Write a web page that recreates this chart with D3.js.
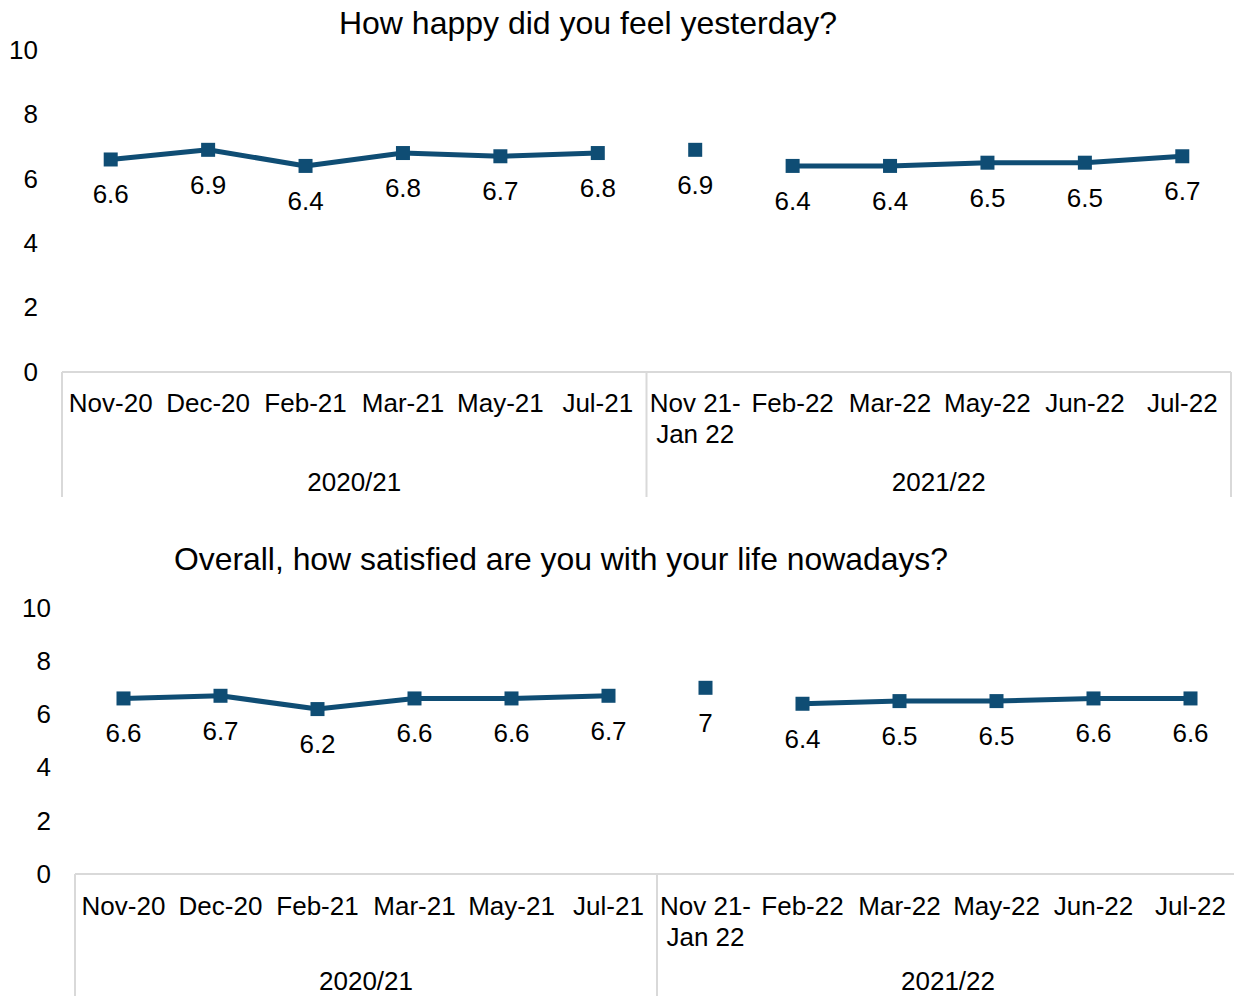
<!DOCTYPE html>
<html>
<head>
<meta charset="utf-8">
<script src="https://cdn.jsdelivr.net/npm/d3@7"></script>
<style>
  html, body { margin: 0; padding: 0; background: #fff; }
  svg { display: block; font-family: "Liberation Sans", Arial, sans-serif; }
  text { fill: #000; }
</style>
</head>
<body>
<svg id="chart" width="1234" height="996"></svg>
<script>
// ---- data ----
const categories = ["Nov-20", "Dec-20", "Feb-21", "Mar-21", "May-21", "Jul-21",
                    "Nov 21-\nJan 22", "Feb-22", "Mar-22", "May-22", "Jun-22", "Jul-22"];
const groups = ["2020/21", "2021/22"];
const groupSizes = [6, 6];
const happyValues = [6.6, 6.9, 6.4, 6.8, 6.7, 6.8, 6.9, 6.4, 6.4, 6.5, 6.5, 6.7];
const satisfiedValues = [6.6, 6.7, 6.2, 6.6, 6.6, 6.7, 7, 6.4, 6.5, 6.5, 6.6, 6.6];
// line segments (index ranges connected by a line); Nov 21-Jan 22 stands alone
const segments = [[0, 5], [7, 11]];
const yTicks = [0, 2, 4, 6, 8, 10];
const titles = ["How happy did you feel yesterday?",
                "Overall, how satisfied are you with your life nowadays?"];

const COLOR = "#0f4d74";
const GRID = "#d9d9d9";
const svg = d3.select("#chart");

function drawPanel(cfg) {
  const g = svg.append("g");
  const x = d3.scaleBand().domain(d3.range(categories.length))
    .range([cfg.left, cfg.right]).paddingInner(0).paddingOuter(0);
  const cx = i => x(i) + x.bandwidth() / 2;
  const y = d3.scaleLinear().domain([0, 10]).range([cfg.y0, cfg.y10]);

  // title
  const t = g.append("text")
    .attr("x", cfg.titleX).attr("y", cfg.titleY)
    .attr("text-anchor", "middle")
    .style("font-size", "32px")
    .text(cfg.title);
  if (cfg.titleLen) t.attr("textLength", cfg.titleLen).attr("lengthAdjust", "spacingAndGlyphs");

  // y axis labels
  const ya = d3.axisLeft(y).tickValues(yTicks).tickSize(0).tickPadding(0).tickFormat(d3.format("d"));
  const yg = g.append("g").attr("transform", `translate(${cfg.yLabelX},0)`).call(ya);
  yg.select(".domain").remove();
  yg.selectAll("text").style("font-size", "26px").attr("fill", "#000")
    .attr("font-family", "Liberation Sans, Arial, sans-serif");

  // category axis box
  g.append("line").attr("x1", cfg.left).attr("x2", cfg.right)
    .attr("y1", cfg.y0).attr("y2", cfg.y0)
    .attr("stroke", GRID).attr("stroke-width", 2);
  let start = 0;
  const bounds = [0];
  groupSizes.forEach(n => { start += n; bounds.push(start); });
  bounds.forEach(b => {
    const bx = b < categories.length ? x(b) : cfg.right;
    g.append("line").attr("x1", bx).attr("x2", bx)
      .attr("y1", cfg.y0).attr("y2", cfg.axisBottom)
      .attr("stroke", GRID).attr("stroke-width", 2);
  });

  // category labels
  categories.forEach((c, i) => {
    const txt = g.append("text").attr("text-anchor", "middle")
      .style("font-size", "26px");
    c.split("\n").forEach((line, k) => {
      txt.append("tspan").attr("x", cx(i))
        .attr("y", cfg.catY + k * cfg.lineH).text(line);
    });
  });
  // group labels
  groups.forEach((gr, k) => {
    const a = bounds[k], b = bounds[k + 1];
    const gx = (x(a) + (b < categories.length ? x(b) : cfg.right)) / 2;
    g.append("text").attr("x", gx).attr("y", cfg.groupY)
      .attr("text-anchor", "middle").style("font-size", "26px").text(gr);
  });

  // lines
  const line = d3.line().x(d => cx(d.i)).y(d => y(d.v));
  const pts = cfg.values.map((v, i) => ({ i, v }));
  segments.forEach(([a, b]) => {
    g.append("path").datum(pts.slice(a, b + 1))
      .attr("d", line).attr("fill", "none")
      .attr("stroke", COLOR).attr("stroke-width", 5)
      .attr("stroke-linejoin", "round");
  });
  // markers
  const s = 14;
  g.selectAll("rect.m").data(pts).enter().append("rect")
    .attr("x", d => cx(d.i) - s / 2).attr("y", d => y(d.v) - s / 2)
    .attr("width", s).attr("height", s).attr("fill", COLOR);
  // value labels
  g.selectAll("text.v").data(pts).enter().append("text")
    .attr("x", d => cx(d.i)).attr("y", d => y(d.v) + 44)
    .attr("text-anchor", "middle").style("font-size", "26px")
    .text(d => d3.format("")(d.v));
}

drawPanel({
  title: titles[0], titleX: 588, titleY: 34,
  values: happyValues,
  left: 62, right: 1231, y0: 372, y10: 50, yLabelX: 38,
  axisBottom: 497, catY: 412, lineH: 31, groupY: 491
});
drawPanel({
  title: titles[1], titleX: 561, titleY: 570, titleLen: 774,
  values: satisfiedValues,
  left: 75, right: 1239, y0: 874, y10: 608, yLabelX: 51,
  axisBottom: 1000, catY: 915, lineH: 31, groupY: 990
});
</script>
</body>
</html>
